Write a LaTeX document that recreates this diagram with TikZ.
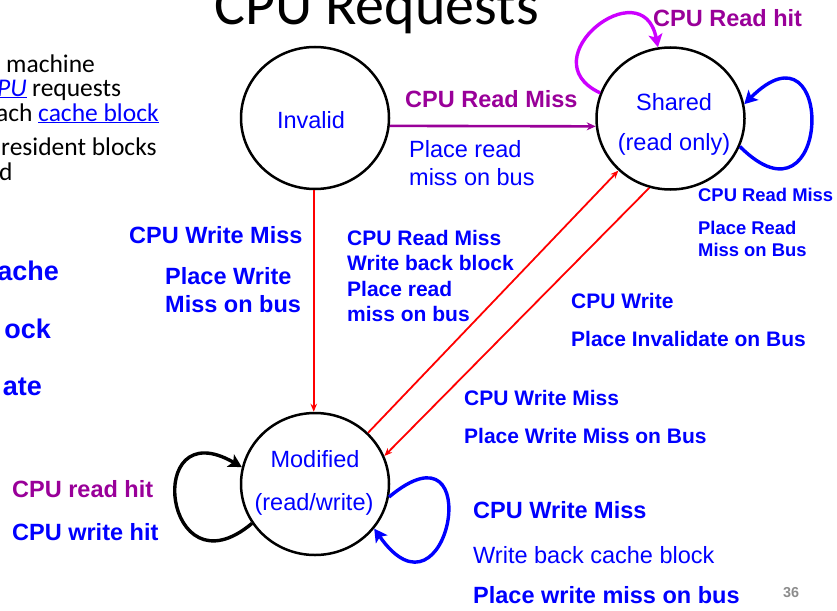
\documentclass[tikz,border=0pt]{standalone}
\usepackage{fontspec}
\setmainfont{Liberation Sans}
\newfontfamily\slidefont{Carlito}
\usetikzlibrary{arrows.meta,shapes.geometric}
\definecolor{lblue}{RGB}{0,0,255}
\definecolor{lpurple}{RGB}{153,0,153}
\definecolor{lmagenta}{RGB}{204,0,255}
\definecolor{lred}{RGB}{255,0,0}
\definecolor{pgnum}{RGB}{140,140,140}
\newcommand\setfs[1]{\fontsize{#1}{#1}\selectfont}

\begin{document}
\begin{tikzpicture}[x=1pt,y=1pt,
  state/.style={ellipse, draw=black, line width=2.5pt, minimum width=148pt, minimum height=142pt, inner sep=0pt},
  stxt/.style={anchor=base, inner sep=0pt, font=\setfs{23.5}, text=lblue},
  bigb/.style={anchor=base west, inner sep=0pt, font=\setfs{23.5}\bfseries, text=lblue},
  bigr/.style={anchor=base west, inner sep=0pt, font=\setfs{23.5}, text=lblue},
  midb/.style={anchor=base west, inner sep=0pt, font=\setfs{21}\bfseries, text=lblue},
  smb/.style={anchor=base west, inner sep=0pt, font=\setfs{18.4}\bfseries, text=lblue},
  slide/.style={anchor=base west, inner sep=0pt, font=\slidefont\setfs{25.5}, text=black},
  cut/.style={anchor=base east, inner sep=0pt, font=\setfs{27}\bfseries, text=lblue},
  edge red/.style={draw=lred, line width=1.8pt, -{Stealth[length=8pt,width=6.5pt]}},
  edge purple/.style={draw=lpurple, line width=2.6pt, -{Stealth[length=9pt,width=8pt]}},
  loop/.style={line width=3.4pt, -{Stealth[length=13pt,width=14pt,inset=3pt]}},
]
\useasboundingbox (0,-610) rectangle (837,0);

% slide title and bullet text cut by the frame
\node[anchor=base west, inner sep=0pt, font=\slidefont\setfs{58}] (title) at (214,-25) {CPU Requests};
\node[slide] (t1) at (6,-72) {machine};
\node[slide] (t2a) at (-3,-96) {\textcolor{lblue}{\underline{\itshape PU}}};
\node[slide] (t2b) at (32,-96) {requests};
\node[slide] (t3a) at (-4,-121) {ach};
\node[slide] (t3b) at (38,-121) {\textcolor{lblue}{\underline{cache block}}};
\node[slide] (t4) at (1,-155) {resident blocks};
\node[slide] (t5) at (-1,-180) {d};
\node[cut] (b1) at (59,-280) {ache};
\node[cut] (b2) at (51,-338) {ock};
\node[cut] (b3) at (42,-395) {ate};

% states
\node[state] (inv) at (315,-118) {};
\node[state] (shr) at (670.5,-118.5) {};
\node[state] (mod) at (315,-484) {};
\node[stxt] (invT) at (311,-128) {Invalid};
\node[stxt] (shrT1) at (674,-110) {Shared};
\node[stxt] (shrT2) at (674,-150) {(read only)};
\node[stxt] (modT1) at (315,-467) {Modified};
\node[stxt] (modT2) at (314,-510) {(read/write)};

% transitions between states
\draw[edge purple] (inv.-6.4) -- (shr.186.2);
\draw[edge red] (inv.-91.6) -- (mod.91.6);
\draw[edge red] (mod.44) -- (shr.225);
\draw[edge red] (shr.-107) -- (mod.22);

% self loops
\draw[loop, draw=lmagenta] (shr.160) .. controls +(155:80) and +(101:80) .. (shr.100.4);
\draw[loop, draw=lblue] (shr.-22.5) .. controls +(-45:130) and +(45:130) .. (shr.11.3);
\draw[loop, draw=black] (mod.212) .. controls +(220:115) and +(150:115) .. (mod.167.6);
\draw[loop, draw=lblue] (mod.-10.9) .. controls +(40:130) and +(-55:130) .. (mod.-37.5);

% transition labels
\node[bigb, text=lpurple] (lRH) at (653,-27) {CPU Read hit};
\node[bigb, text=lpurple] (lRM) at (405,-107) {CPU Read Miss};
\node[bigr] (lPR1) at (409,-157) {Place read};
\node[bigr] (lPR2) at (409,-185) {miss on bus};

\node[bigb] (lWM) at (129,-243) {CPU Write Miss};
\node[bigb] (lPW1) at (165,-284) {Place Write};
\node[bigb] (lPW2) at (165,-312) {Miss on bus};

\node[midb] (lM1) at (347,-245) {CPU Read Miss};
\node[midb] (lM2) at (347,-270) {Write back block};
\node[midb] (lM3) at (347,-296) {Place read};
\node[midb] (lM4) at (347,-321) {miss on bus};

\node[smb] (lS1) at (698,-201) {CPU Read Miss};
\node[smb] (lS2) at (698,-234) {Place Read};
\node[smb] (lS3) at (698,-256) {Miss on Bus};

\node[midb] (lW1) at (571,-308) {CPU Write};
\node[midb] (lW2) at (571,-346) {Place Invalidate on Bus};

\node[midb] (lX1) at (464,-405) {CPU Write Miss};
\node[midb] (lX2) at (464,-443) {Place Write Miss on Bus};

\node[bigb] (lB1) at (473,-518) {CPU Write Miss};
\node[bigr] (lB2) at (473,-563) {Write back cache block};
\node[bigb] (lB3) at (473,-603) {Place write miss on bus};

\node[bigb, text=lpurple] (lH1) at (12,-497) {CPU read hit};
\node[bigb] (lH2) at (12,-540) {CPU write hit};

\node[anchor=base west, inner sep=0pt, font=\setfs{14.4}\bfseries, text=pgnum] (pg) at (783,-597) {36};
\end{tikzpicture}
\end{document}
